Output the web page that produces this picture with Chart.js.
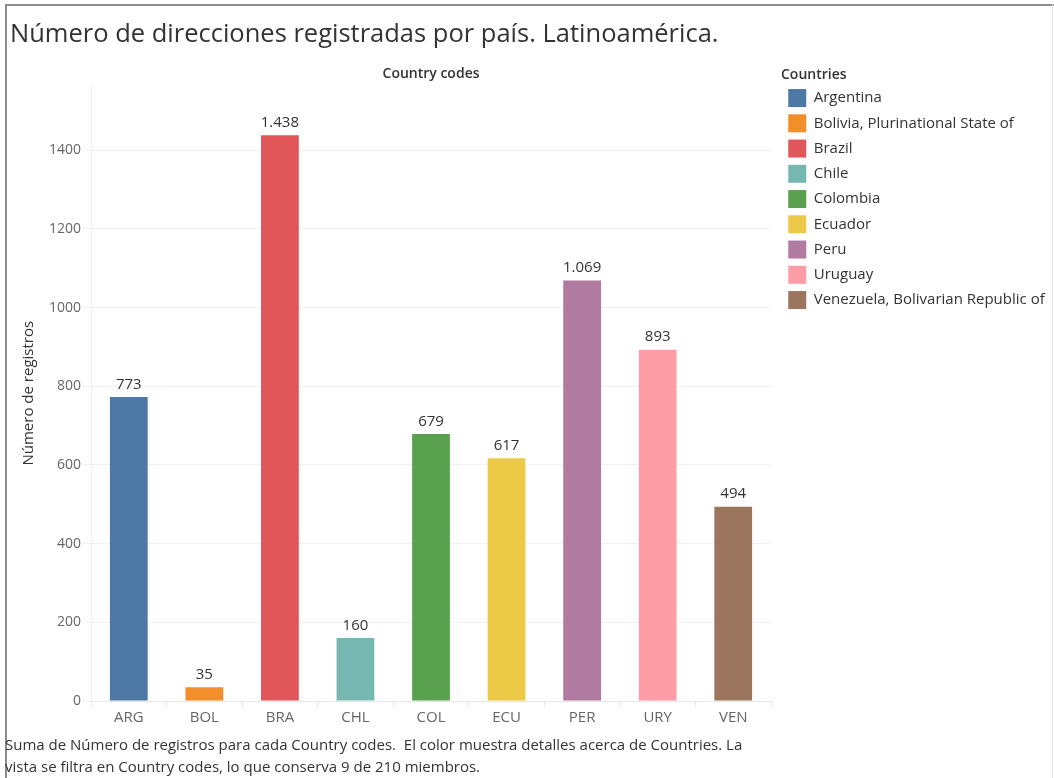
<!DOCTYPE html>
<html>
<head>
<meta charset="utf-8">
<script src="https://cdn.jsdelivr.net/npm/chart.js@4/dist/chart.umd.min.js"></script>
<style>
  html, body { margin: 0; padding: 0; background: #fff; }
  #wrap { position: relative; width: 1054px; height: 778px; overflow: hidden; }
  #frameTop { position: absolute; left: 5px; top: 4px; width: 1049px; height: 2px; background: #8c8c8c; }
  #frameLeft { position: absolute; left: 5px; top: 4px; width: 2px; height: 774px; background: #8c8c8c; }
  #frameRight { position: absolute; left: 1052px; top: 4px; width: 1px; height: 774px; background: #e6e6e6; }
  canvas { position: absolute; left: 0; top: 0; }
</style>
</head>
<body>
<div id="wrap">
  <div id="frameTop"></div>
  <div id="frameLeft"></div>
  <div id="frameRight"></div>
  <canvas id="c" width="1054" height="778"></canvas>
</div>
<script>
const countryCodes = ["ARG", "BOL", "BRA", "CHL", "COL", "ECU", "PER", "URY", "VEN"];
const countryNames = ["Argentina", "Bolivia, Plurinational State of", "Brazil", "Chile", "Colombia", "Ecuador", "Peru", "Uruguay", "Venezuela, Bolivarian Republic of"];
const registros = [773, 35, 1438, 160, 679, 617, 1069, 893, 494];
const countryColors = ["#4e79a7", "#f28e2b", "#e15759", "#76b7b2", "#59a14f", "#edc948", "#b07aa1", "#ff9da7", "#9c755f"];
const yTicks = [0, 200, 400, 600, 800, 1000, 1200, 1400];

const chartTitle = "Número de direcciones registradas por país. Latinoamérica.";
const xTitle = "Country codes";
const yTitle = "Número de registros";
const legendTitle = "Countries";
const footerLines = [
  "Suma de Número de registros para cada Country codes.  El color muestra detalles acerca de Countries. La",
  "vista se filtra en Country codes, lo que conserva 9 de 210 miembros."
];

const FONT = "'Open Sans', sans-serif";
const LEGEND_WIDTH = 281;   // legend box width (layout)
const LEGEND_SHIFT = 10;    // extra gap between plot and legend items

function fmt(v) {
  return String(v).replace(/\B(?=(\d{3})+(?!\d))/g, ".");
}

const legendLayout = {
  id: "legendLayout",
  afterInit(chart) {
    const lg = chart.legend;
    if (!lg) return;
    const origFit = lg.fit.bind(lg);
    lg.fit = function () { origFit(); this.width = LEGEND_WIDTH; };
    const origDraw = lg.draw.bind(lg);
    lg.draw = function () {
      const c = this.ctx;
      c.save();
      c.translate(LEGEND_SHIFT, 0);
      origDraw();
      c.restore();
    };
  }
};

const valueLabels = {
  id: "valueLabels",
  afterDatasetsDraw(chart) {
    const ctx = chart.ctx;
    const meta = chart.getDatasetMeta(0);
    ctx.save();
    ctx.font = "15px " + FONT;
    ctx.fillStyle = "#333";
    ctx.textAlign = "center";
    ctx.textBaseline = "bottom";
    meta.data.forEach((bar, i) => {
      ctx.fillText(fmt(chart.data.datasets[0].data[i]), bar.x, bar.y - 5);
    });
    ctx.restore();
  }
};

const footer = {
  id: "footer",
  afterDraw(chart) {
    const ctx = chart.ctx;
    ctx.save();
    ctx.font = "15px " + FONT;
    ctx.fillStyle = "#333";
    ctx.textAlign = "left";
    ctx.textBaseline = "middle";
    footerLines.forEach((t, i) => ctx.fillText(t, 5, 746 + i * 22));
    ctx.restore();
  }
};

new Chart(document.getElementById("c"), {
  type: "bar",
  data: {
    labels: countryCodes,
    datasets: [{
      data: registros,
      backgroundColor: countryColors,
      barPercentage: 0.5,
      categoryPercentage: 1.0,
      xAxisID: "x",
      yAxisID: "y"
    }]
  },
  options: {
    responsive: false,
    animation: false,
    layout: { padding: { left: 10, top: 10, right: 2, bottom: 49 } },
    plugins: {
      tooltip: { enabled: false },
      title: {
        display: true,
        text: chartTitle,
        align: "start",
        color: "#333",
        font: { family: FONT, size: 25.5, weight: "normal" },
        padding: { top: 9, bottom: 16 }
      },
      legend: {
        display: true,
        position: "right",
        align: "start",
        onClick: null,
        title: {
          display: true,
          text: legendTitle,
          position: "start",
          color: "#333",
          font: { family: FONT, size: 14, weight: "600" },
          padding: { top: 58, bottom: -3 }
        },
        labels: {
          boxWidth: 18,
          boxHeight: 18,
          padding: 7.25,
          color: "#333",
          font: { family: FONT, size: 15 },
          generateLabels: () => countryNames.map((n, i) => ({
            text: n,
            fillStyle: countryColors[i],
            strokeStyle: countryColors[i],
            lineWidth: 0,
            hidden: false,
            index: i
          }))
        }
      }
    },
    scales: {
      x: {
        type: "category",
        position: "bottom",
        offset: true,
        grid: { display: true, drawOnChartArea: false, drawTicks: true, tickLength: 6, color: "#e6e6e6", offset: true },
        border: { display: true, color: "#e6e6e6" },
        ticks: { color: "#666", font: { family: FONT, size: 15 }, padding: 2 }
      },
      x2: {
        type: "category",
        position: "top",
        labels: countryCodes,
        offset: true,
        grid: { display: false, drawTicks: false },
        border: { display: false },
        ticks: { display: false },
        title: { display: true, text: xTitle, color: "#333", font: { family: FONT, size: 14, weight: "600" }, padding: { top: 0, bottom: 3 } }
      },
      y: {
        min: 0,
        max: 1565,
        afterBuildTicks: (axis) => { axis.ticks = yTicks.map(v => ({ value: v })); },
        grid: { color: "#f0f0f0", drawTicks: true, tickLength: 8 },
        border: { display: true, color: "#f0f0f0" },
        ticks: { color: "#666", font: { family: FONT, size: 14 }, padding: 2, callback: (v) => String(v) },
        title: { display: true, text: yTitle, color: "#333", font: { family: FONT, size: 15 }, padding: { top: 10, bottom: 9 } }
      }
    }
  },
  plugins: [legendLayout, valueLabels, footer]
});
</script>
</body>
</html>
